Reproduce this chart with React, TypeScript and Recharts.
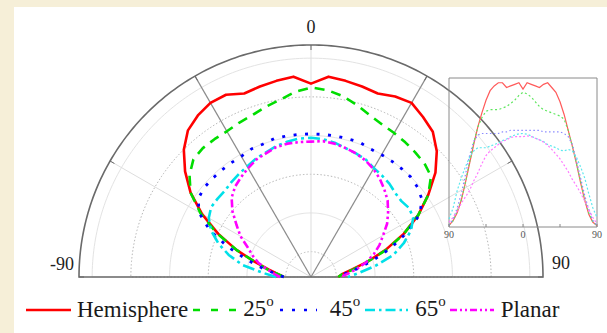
import React from 'react';
import {
  RadarChart,
  Radar,
  PolarGrid,
  PolarAngleAxis,
  PolarRadiusAxis,
  Legend,
  LineChart,
  Line,
  XAxis,
  YAxis,
  ReferenceArea,
} from 'recharts';

// ---------- data ----------
const ANGLES = [-90, -85, -80, -75, -70, -65, -60, -55, -50, -45, -40, -35, -30, -25, -20, -15, -10, -5, 0, 5, 10, 15, 20, 25, 30, 35, 40, 45, 50, 55, 60, 65, 70, 75, 80, 85, 90];
const HEMISPHERE = [1, 4, 9, 17, 28, 40, 52, 63, 72, 80, 86, 89, 91, 91, 88, 89, 90, 91, 87, 91, 90, 89, 88, 90, 91, 88, 85, 79, 71, 61, 51, 40, 28, 17, 8, 3, 1];
const DEG25 = [1, 4, 10, 17, 28, 41, 53, 63, 69, 73, 74, 74, 74, 75, 76, 78, 80, 83, 85, 84, 82, 79, 76, 74, 73, 72, 71, 70, 68, 61, 51, 40, 29, 17, 9, 3, 1];
const DEG45 = [1, 5, 12, 21, 33, 45, 54, 58, 59, 59, 59, 59, 59, 60, 60, 61, 61, 61, 61, 61, 61, 61, 61, 60, 60, 60, 60, 60, 59, 57, 52, 42, 31, 20, 11, 4, 1];
const DEG65 = [5, 12, 23, 31, 38, 44, 48, 50, 50, 50, 51, 52, 53, 54.5, 55.5, 57, 58, 58.8, 59, 58.5, 57.5, 56, 55, 54, 52, 51, 50, 48.5, 48, 49, 48, 44, 38, 31, 21, 12, 6];
const PLANAR = [3, 6, 10, 15, 19, 23, 29, 34, 40, 45, 48, 50, 52, 54, 55, 56.5, 57, 57, 57, 57.5, 57, 56, 55, 53.5, 51.5, 49, 46, 43, 39, 35, 30, 26, 21.5, 16.5, 11, 6, 2];

const SERIES_KEYS = ['hemisphere', 'd25', 'd45', 'd65', 'planar'];
const SERIES_NAMES = ['Hemisphere', '25°', '45°', '65°', 'Planar'];

const POLAR_TICKS = [-90, -60, -30, 0, 30, 60, 90];
const POLAR_LABELS = [-90, 0, 90];
const RADIAL_DOTTED = [0, 40, 80];
const RADIAL_LIGHT = [20, 60, 100];
const INSET_TICKS = [-90, -45, 0, 45, 90];
const INSET_LABELS = [-90, 0, 90];

const rows = ANGLES.map((angle, i) => ({
  angle,
  hemisphere: HEMISPHERE[i],
  d25: DEG25[i],
  d45: DEG45[i],
  d65: DEG65[i],
  planar: PLANAR[i],
}));

// ---------- styles ----------
const SERIF = "'Liberation Serif', 'Times New Roman', serif";
const CX = 311;
const CY = 277;
const OUTER_R = 232;
const R_DOMAIN: [number, number] = [-13.1, 106.8];
const INSET_Y_DOMAIN: [number, number] = [0, 94];

const STYLES: Record<string, any> = {
  hemisphere: { color: '#ff0000', width: 2.6, dash: undefined, legendDash: undefined, lineW: 45, before: 6, after: 5, insetColor: '#ff5a5a', insetDash: undefined },
  d25: { color: '#00dd00', width: 2.6, dash: '10 7', legendDash: '7 11', lineW: 43, before: 7, after: 6, insetColor: '#5ee65e', insetDash: '2 2.5' },
  d45: { color: '#0000ff', width: 2.8, dash: '3 8.5', legendDash: '3 9', lineW: 37, before: 13, after: 5, insetColor: '#8a8aff', insetDash: '1.5 2.5' },
  d65: { color: '#00e0e8', width: 2.6, dash: '12 4 3 4', legendDash: '10 4 2.5 4', lineW: 43, before: 7, after: 4, insetColor: '#5ee8ee', insetDash: '2 2' },
  planar: { color: '#ff00ff', width: 2.6, dash: '8 3 2.5 3 2.5 3', legendDash: '7 3 2 3 2 3', lineW: 44, before: 7, after: 0, insetColor: '#ff7aff', insetDash: '2 2' },
};

// frame geometry: every degree along the half circle (recharts angle convention)
const ARC_ANGLES = Array.from({ length: 181 }, (_, i) => i);
const toRadiusPx = (v: number) => (OUTER_R * (v - R_DOMAIN[0])) / (R_DOMAIN[1] - R_DOMAIN[0]);

const openShape = (key: string) => (props: any) => {
  const s = STYLES[key];
  const pts = props.points || [];
  const d = pts
    .map((p: any, i: number) => `${i === 0 ? 'M' : 'L'}${p.x.toFixed(2)},${p.y.toFixed(2)}`)
    .join(' ');
  return (
    <path
      d={d}
      fill="none"
      stroke={s.color}
      strokeWidth={s.width}
      strokeDasharray={s.dash}
      strokeLinejoin="round"
    />
  );
};

const PolarTick = (props: any) => {
  const { x, y, payload } = props;
  const v = payload ? payload.value : undefined;
  if (!POLAR_LABELS.includes(v)) return <g />;
  let tx = x;
  let ty = y;
  let anchor: any = 'middle';
  if (v === 0) {
    ty = y - 17;
  } else if (v < 0) {
    tx = x - 10;
    ty = y - 7;
    anchor = 'end';
  } else {
    tx = x + 14;
    ty = y - 8;
    anchor = 'start';
  }
  return (
    <text x={tx} y={ty} textAnchor={anchor} fontFamily={SERIF} fontSize={18} fill="#222">
      {v}
    </text>
  );
};

const InsetTick = (props: any) => {
  const { x, y, payload } = props;
  const v = payload ? payload.value : undefined;
  return (
    <g>
      <line x1={x} x2={x} y1={y} y2={y - 3} stroke="#888" strokeWidth={1} />
      {INSET_LABELS.includes(v) && (
        <text x={x} y={y + 11} textAnchor="middle" fontFamily={SERIF} fontSize={10} fill="#555">
          {Math.abs(v)}
        </text>
      )}
    </g>
  );
};

const renderName = (name: string) => {
  if (name.endsWith('°')) {
    return (
      <>
        {name.slice(0, -1)}
        <span style={{ fontSize: 15, position: 'relative', top: -10 }}>o</span>
      </>
    );
  }
  return name;
};

const LegendContent = (props: any) => {
  const payload = (props.payload || []).slice();
  payload.sort((a: any, b: any) => SERIES_NAMES.indexOf(a.value) - SERIES_NAMES.indexOf(b.value));
  return (
    <div
      style={{
        display: 'flex',
        alignItems: 'center',
        height: 36,
        paddingLeft: 26,
        fontFamily: SERIF,
        fontSize: 23,
        color: '#1a1a1a',
        whiteSpace: 'nowrap',
      }}
    >
      {payload.map((entry: any) => {
        const idx = SERIES_NAMES.indexOf(entry.value);
        const key = SERIES_KEYS[idx];
        const s = STYLES[key];
        if (!s) return null;
        return (
          <div key={entry.value} style={{ display: 'flex', alignItems: 'center', marginRight: s.after }}>
            <svg width={s.lineW} height={8} style={{ display: 'block' }}>
              <line x1={0} x2={s.lineW} y1={4} y2={4} stroke={s.color} strokeWidth={2.5} strokeDasharray={s.legendDash} />
            </svg>
            <span style={{ marginLeft: s.before, lineHeight: '36px' }}>{renderName(entry.value)}</span>
          </div>
        );
      })}
    </div>
  );
};

export default function App() {
  return (
    <div style={{ position: 'absolute', left: 0, top: 0, width: 607, height: 333, overflow: 'hidden', background: '#f6efd8' }}>
      <div style={{ position: 'absolute', left: 14, top: 7, right: 0, bottom: 0, background: '#ffffff' }} />
      <div style={{ position: 'absolute', left: 0, top: 0 }}>
        <RadarChart
          width={607}
          height={333}
          data={rows}
          cx={CX}
          cy={CY}
          innerRadius={0}
          outerRadius={OUTER_R}
          startAngle={180}
          endAngle={0}
          margin={{ top: 0, right: 0, bottom: 0, left: 0 }}
        >
          {/* light solid circles */}
          <PolarGrid
            gridType="polygon"
            radialLines={false}
            polarAngles={ARC_ANGLES}
            polarRadius={RADIAL_LIGHT.map(toRadiusPx)}
            stroke="#e3e3e3"
            strokeWidth={1}
          />
          {/* dotted circles */}
          <PolarGrid
            gridType="polygon"
            radialLines={false}
            polarAngles={ARC_ANGLES}
            polarRadius={RADIAL_DOTTED.map(toRadiusPx)}
            stroke="#b8b8b8"
            strokeWidth={1}
            strokeDasharray="1.5 2"
          />
          {/* light spokes at -60, 0, 60 */}
          <PolarGrid gridType="polygon" polarAngles={[150, 90, 30]} polarRadius={[]} stroke="#dddddd" strokeWidth={1} />
          {/* dark spokes at -30, 30 */}
          <PolarGrid gridType="polygon" polarAngles={[120, 60]} polarRadius={[]} stroke="#8c8c8c" strokeWidth={1.2} />
          {/* outer half circle + baseline */}
          <PolarGrid
            gridType="polygon"
            radialLines={false}
            polarAngles={ARC_ANGLES}
            polarRadius={[OUTER_R]}
            stroke="#6a6a6a"
            strokeWidth={1.6}
          />
          <PolarAngleAxis
            dataKey="angle"
            type="number"
            domain={['auto', 'auto']}
            ticks={POLAR_TICKS as any}
            tickCount={7}
            axisLine={false}
            orientation="inner"
            tickSize={5}
            tickLine={{ stroke: '#666', strokeWidth: 1 }}
            tick={PolarTick}
          />
          <PolarRadiusAxis type="number" domain={R_DOMAIN} tick={false} axisLine={false} />
          {SERIES_KEYS.map((key, i) => (
            <Radar
              key={key}
              name={SERIES_NAMES[i]}
              dataKey={key}
              stroke={STYLES[key].color}
              fill="none"
              dot={false}
              isAnimationActive={false}
              shape={openShape(key)}
            />
          ))}
          <Legend
            verticalAlign="bottom"
            itemSorter={null as any}
            content={LegendContent}
            wrapperStyle={{ position: 'absolute', left: 0, top: 292, bottom: 'auto', width: 607, height: 36 }}
          />
        </RadarChart>
      </div>
      <div style={{ position: 'absolute', left: 440, top: 70 }}>
        <LineChart width={170} height={175} data={rows} margin={{ top: 8, right: 13, bottom: 0, left: 9 }}>
          <XAxis
            dataKey="angle"
            type="number"
            domain={[-90, 90]}
            ticks={INSET_TICKS}
            interval={0}
            tick={InsetTick}
            tickLine={false}
            axisLine={false}
            tickSize={0}
            tickMargin={0}
            height={18}
          />
          <YAxis type="number" domain={INSET_Y_DOMAIN} hide />
          <ReferenceArea x1={-90} x2={90} y1={0} y2={94} fill="none" stroke="#8a8a8a" strokeWidth={1} ifOverflow="visible" />
          {SERIES_KEYS.map((key, i) => (
            <Line
              key={key}
              name={SERIES_NAMES[i]}
              dataKey={key}
              type="linear"
              stroke={STYLES[key].insetColor}
              strokeWidth={1.2}
              strokeDasharray={STYLES[key].insetDash}
              dot={false}
              isAnimationActive={false}
            />
          ))}
        </LineChart>
      </div>
    </div>
  );
}
